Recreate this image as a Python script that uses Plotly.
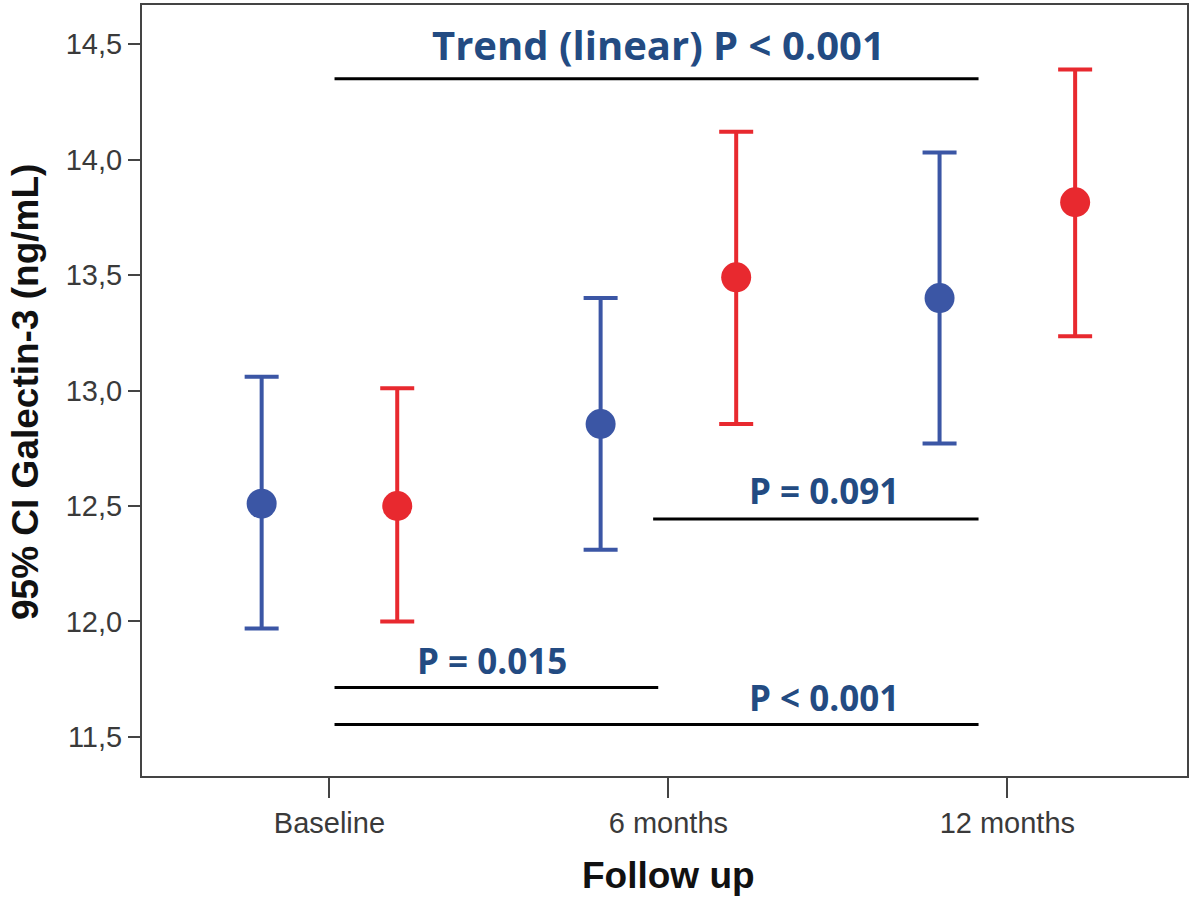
import plotly.graph_objects as go

categories = ["Baseline", "6 months", "12 months"]
cat_pos = [0, 1, 2]
offset = 0.2

blue_mean = [12.51, 12.855, 13.40]
blue_upper = [13.06, 13.40, 14.03]
blue_lower = [11.97, 12.31, 12.77]

red_mean = [12.50, 13.49, 13.815]
red_upper = [13.01, 14.12, 14.39]
red_lower = [12.00, 12.855, 13.235]

y_ticks = [11.5, 12.0, 12.5, 13.0, 13.5, 14.0, 14.5]

# significance lines: (x0, x1, y, label, label_x, label_y, font size)
sig_lines = [
    (0.015, 1.915, 14.35, "Trend (linear) P < 0.001", 0.97, 14.5, 40),
    (0.955, 1.915, 12.444, "P = 0.091", 1.46, 12.565, 35),
    (0.015, 0.97, 11.714, "P = 0.015", 0.48, 11.83, 35),
    (0.015, 1.915, 11.554, "P < 0.001", 1.46, 11.67, 35),
]

BLUE = "#3B56A5"
RED = "#E8292F"
TXT = "#234B82"

W, H = 1195, 897
ML, MR, MT, MB = 142, 8, 5, 121
PW, PH = W - ML - MR, H - MT - MB

fig = go.Figure()

for mean, up, lo, col, sgn in [(blue_mean, blue_upper, blue_lower, BLUE, -1),
                                (red_mean, red_upper, red_lower, RED, 1)]:
    fig.add_trace(go.Scatter(
        x=[p + sgn * offset for p in cat_pos],
        y=mean,
        mode="markers",
        marker=dict(color=col, size=30),
        error_y=dict(type="data", symmetric=False,
                     array=[u - m for u, m in zip(up, mean)],
                     arrayminus=[m - l for m, l in zip(mean, lo)],
                     color=col, thickness=4, width=17),
        showlegend=False,
    ))

for x0, x1, y, label, lx, ly, fs in sig_lines:
    fig.add_shape(type="line", x0=x0, x1=x1, y0=y, y1=y, xref="x", yref="y",
                  line=dict(color="black", width=3))
    fig.add_annotation(x=lx, y=ly, xref="x", yref="y", text="<b>" + label + "</b>",
                       showarrow=False, font=dict(family="Open Sans", size=fs, color=TXT),
                       xanchor="center", yanchor="middle")

# axis titles as paper annotations
fig.add_annotation(x=(668 - ML) / PW, y=(H - MB - 875) / PH, xref="paper", yref="paper",
                   text="<b>Follow up</b>", showarrow=False,
                   font=dict(family="Liberation Sans", size=37, color="#111"),
                   xanchor="center", yanchor="middle")
fig.add_annotation(x=(25 - ML) / PW, y=(H - MB - 392) / PH, xref="paper", yref="paper",
                   text="<b>95% CI Galectin-3 (ng/mL)</b>", showarrow=False, textangle=-90,
                   font=dict(family="Liberation Sans", size=37, color="#111"),
                   xanchor="center", yanchor="middle")

fig.update_layout(
    width=W, height=H,
    margin=dict(l=ML, r=MR, t=MT, b=MB),
    paper_bgcolor="white", plot_bgcolor="white",
    separators=",.",
    showlegend=False,
)

fig.update_xaxes(
    range=[-0.553, 2.53], automargin=False,
    tickvals=cat_pos, ticktext=categories,
    ticks="outside", ticklen=20, tickwidth=2, tickcolor="#444",
    showline=True, linecolor="#444", linewidth=2, mirror=True,
    showgrid=False, zeroline=False,
    tickfont=dict(family="Liberation Sans", size=29, color="#3a3a3a"),
)

fig.update_yaxes(
    range=[11.331, 14.669], automargin=False,
    tickvals=y_ticks, tickformat=".1f",
    ticks="outside", ticklen=12, tickwidth=2, tickcolor="#444",
    showline=True, linecolor="#444", linewidth=2, mirror=True,
    showgrid=False, zeroline=False,
    tickfont=dict(family="Liberation Sans", size=29, color="#3a3a3a"),
)

fig.write_html("out.html", config={"displayModeBar": False},
               post_script="document.body.style.margin='0';document.body.style.padding='0';")
